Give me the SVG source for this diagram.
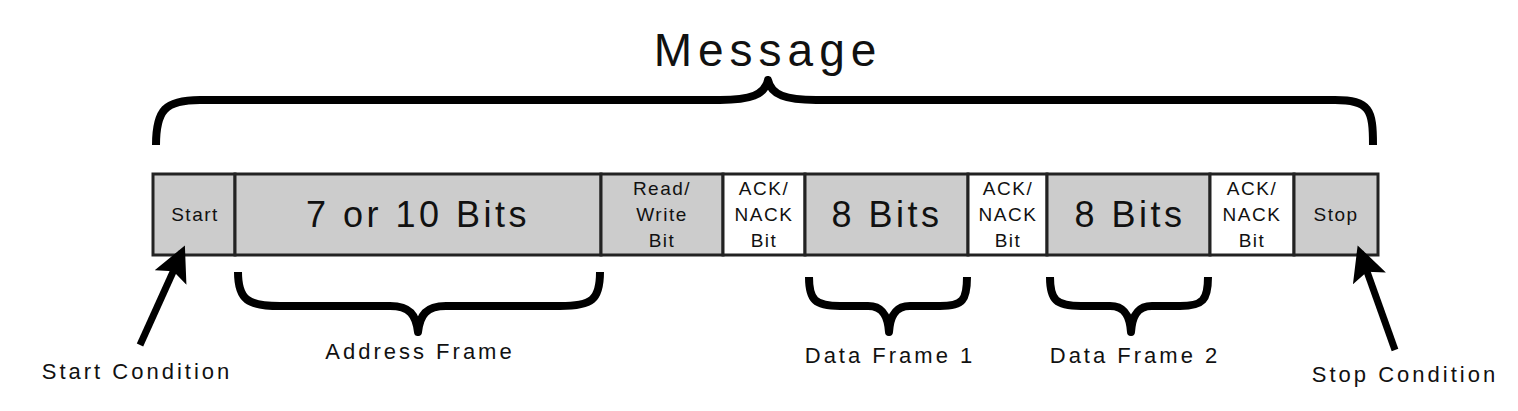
<svg xmlns="http://www.w3.org/2000/svg" width="1518" height="411" viewBox="0 0 1518 411">
<style>
text{font-family:"Liberation Sans",Arial,sans-serif;fill:#111;text-anchor:middle}
.g{fill:#cccccc;stroke:#222;stroke-width:3}
.w{fill:#fff;stroke:#222;stroke-width:3}
.br{fill:none;stroke:#000;stroke-width:8;stroke-linejoin:round}
.s{font-size:19px;letter-spacing:1.5px}
.b{font-size:36px;letter-spacing:3.5px}
.l{font-size:22px;letter-spacing:3px}
</style>
<defs><marker id="ah" viewBox="0 0 10 10" refX="8" refY="5" markerWidth="5" markerHeight="5" orient="auto"><path d="M0,0 L10,5 L0,10 L2,5 z" fill="#000"/></marker></defs>
<rect x="0" y="0" width="1518" height="411" fill="#fff"/>
<text x="768" y="66" style="font-size:46px;letter-spacing:6px">Message</text>
<g id="n-start"><rect class="g" x="153" y="174" width="82" height="81"/><text class="s" x="195" y="221">Start</text></g>
<g id="n-addr"><rect class="g" x="235" y="174" width="366" height="81"/><text class="b" x="418" y="227">7 or 10 Bits</text></g>
<g id="n-rw"><rect class="g" x="601" y="174" width="122" height="81"/><text class="s" x="662" y="195">Read/</text><text class="s" x="662" y="221">Write</text><text class="s" x="662" y="247">Bit</text></g>
<g id="n-ack1"><rect class="w" x="723" y="174" width="82" height="81"/><text class="s" x="764" y="195">ACK/</text><text class="s" x="764" y="221">NACK</text><text class="s" x="764" y="247">Bit</text></g>
<g id="n-d1"><rect class="g" x="805" y="174" width="163" height="81"/><text class="b" x="887" y="227">8 Bits</text></g>
<g id="n-ack2"><rect class="w" x="968" y="174" width="79" height="81"/><text class="s" x="1008" y="195">ACK/</text><text class="s" x="1008" y="221">NACK</text><text class="s" x="1008" y="247">Bit</text></g>
<g id="n-d2"><rect class="g" x="1047" y="174" width="163" height="81"/><text class="b" x="1130" y="227">8 Bits</text></g>
<g id="n-ack3"><rect class="w" x="1210" y="174" width="84" height="81"/><text class="s" x="1252" y="195">ACK/</text><text class="s" x="1252" y="221">NACK</text><text class="s" x="1252" y="247">Bit</text></g>
<g id="n-stop"><rect class="g" x="1294" y="174" width="84" height="81"/><text class="s" x="1336" y="221">Stop</text></g>
<g id="connectors">
<path class="br" d="M156 145 C156 110 165 100 200 100 L720 100 C750 100 765 95 768 80 C771 95 786 100 816 100 L1335 100 C1370 100 1373 110 1373 145"/>
<path class="br" d="M238 272 C238 300 248 306 280 306 L390 306 C410 306 416 315 418 332 C420 315 426 306 446 306 L560 306 C592 306 600 300 600 272"/>
<path class="br" d="M809 277 C809 300 815 306 840 306 L868 306 C884 306 888 318 889 332 C890 318 894 306 910 306 L940 306 C963 306 967 300 967 277"/>
<path class="br" d="M1050 277 C1050 300 1056 306 1081 306 L1110 306 C1126 306 1130 318 1131 332 C1132 318 1136 306 1152 306 L1180 306 C1203 306 1208 300 1208 277"/>
<line x1="140" y1="345" x2="182" y2="252" stroke="#000" stroke-width="7" marker-end="url(#ah)"/>
<line x1="1395" y1="350" x2="1360" y2="252" stroke="#000" stroke-width="7" marker-end="url(#ah)"/>
</g>
<text class="l" x="137" y="379">Start Condition</text>
<text class="l" x="420" y="359">Address Frame</text>
<text class="l" x="890" y="363">Data Frame 1</text>
<text class="l" x="1135" y="363">Data Frame 2</text>
<text class="l" x="1405" y="382">Stop Condition</text>
</svg>
